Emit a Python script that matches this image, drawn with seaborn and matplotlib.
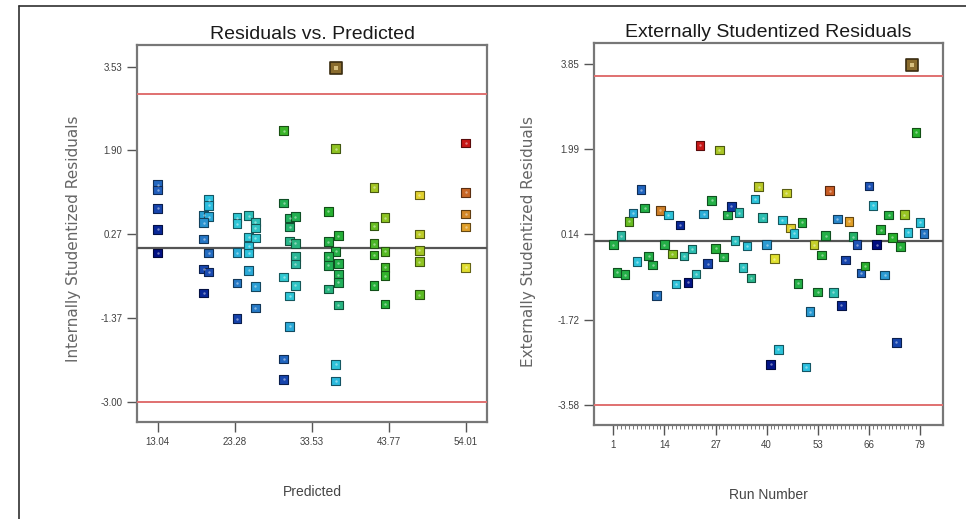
import numpy as np
import pandas as pd
import matplotlib
matplotlib.use("Agg")
import matplotlib.pyplot as plt
import seaborn as sns
from matplotlib import font_manager
from matplotlib.colors import LinearSegmentedColormap
from matplotlib.lines import Line2D

# ---------------- data ----------------
# Left panel: predicted value vs internally studentized residual
left_pred = [13.04, 13.04, 13.04, 13.04, 13.04,
             19.82, 19.82, 19.16, 19.82, 19.16, 19.16, 19.82, 19.16, 19.82, 19.16,
             23.59, 23.59, 25.14, 26.02, 26.02, 25.14, 26.02, 25.14, 23.59, 25.14,
             25.14, 23.59, 26.02, 26.02, 23.59,
             29.80, 29.80, 30.59, 31.34, 30.59, 30.59, 31.34, 31.34, 31.34, 29.80,
             31.34, 30.59, 30.59, 29.80, 29.80,
             36.71, 35.73, 37.06, 35.73, 36.71, 35.73, 35.73, 37.06, 37.06, 37.06,
             35.73, 37.06, 36.71, 36.71,
             41.84, 43.27, 41.84, 41.84, 43.27, 41.84, 43.27, 43.27, 41.84, 43.27,
             47.83, 47.83, 47.83, 47.83, 47.83,
             54.01, 54.01, 54.01, 54.01, 54.01]
left_resid = [1.23, 1.13, 0.77, 0.36, -0.10,
              0.94, 0.83, 0.64, 0.61, 0.49, 0.17, -0.10, -0.41, -0.47, -0.88,
              0.59, 0.47, 0.63, 0.50, 0.39, 0.21, 0.19, 0.03, -0.09, -0.10,
              -0.44, -0.68, -0.75, -1.17, -1.38,
              2.28, 0.87, 0.58, 0.61, 0.41, 0.13, 0.09, -0.17, -0.31, -0.57,
              -0.73, -0.94, -1.53, -2.16, -2.56,
              1.93, 0.71, 0.24, 0.12, -0.07, -0.17, -0.34, -0.30, -0.52, -0.67,
              -0.80, -1.11, -2.27, -2.59,
              1.18, 0.59, 0.43, 0.08, -0.07, -0.14, -0.38, -0.54, -0.73, -1.09,
              1.03, 0.27, -0.05, -0.27, -0.91,
              2.04, 1.08, 0.66, 0.41, -0.38]
left_outlier_pred = [36.71]
left_outlier_resid = [3.51]

# Right panel: run number vs externally studentized residual
right_run = list(range(1, 77)) + [78, 79, 80]
right_resid = [-0.09, -0.69, 0.11, -0.74, 0.42, 0.60, -0.46, 1.11, 0.71, -0.33,
               -0.53, -1.19, 0.66, -0.09, 0.56, -0.29, -0.95, 0.34, -0.33, -0.91,
               -0.18, -0.73, 2.08, 0.58, -0.50, 0.88, -0.17, 1.98, -0.36, 0.56,
               0.75, 0.00, 0.61, -0.58, -0.12, -0.81, 0.91, 1.18, 0.50, -0.09,
               -2.70, -0.39, -2.37, 0.45, 1.04, 0.28, 0.16, -0.93, 0.40, -2.76,
               -1.55, -0.09, -1.12, -0.31, 0.11, 1.09, -1.13, 0.47, -1.41, -0.42,
               0.42, 0.09, -0.09, -0.71, -0.55, 1.19, 0.77, -0.09, 0.24, -0.75,
               0.56, 0.07, -2.22, -0.13, 0.57, 0.18, 2.36, 0.40, 0.16]
right_actual = [36, 36, 30, 36, 44, 23, 25, 19, 36, 36,
                36, 20, 58, 36, 25, 46, 25, 15, 29, 13,
                29, 28, 64, 23, 17, 36, 38, 48, 36, 35,
                16, 28, 29, 28, 25, 31, 25, 49, 29, 22,
                13, 52, 25, 26, 50, 53, 26, 36, 37, 24,
                22, 50, 36, 38, 36, 60, 29, 21, 15, 17,
                56, 33, 18, 19, 40, 18, 25, 12, 38, 22,
                37, 40, 17, 38, 47, 25, 40, 25, 20]
right_outlier_run = [77]
right_outlier_resid = [3.83]

left_yticks = [3.53, 1.90, 0.27, -1.37, -3.00]
left_xticks = [13.04, 23.28, 33.53, 43.77, 54.01]
right_yticks = [3.85, 1.99, 0.14, -1.72, -3.58]
right_xticks = [1, 14, 27, 40, 53, 66, 79]
left_limits = 3.0
right_limits = 3.58

# ---------------- style ----------------
sns.set_style("white")

def has_font(name):
    try:
        font_manager.findfont(name, fallback_to_default=False)
        return True
    except Exception:
        return False

narrow = "Liberation Sans Narrow" if has_font("Liberation Sans Narrow") else "Liberation Sans"
plt.rcParams["font.family"] = [narrow, "DejaVu Sans"]

stops = [(12, '#000c80'), (15, '#0a2a9a'), (18, '#1f55b8'), (21, '#2a88cc'),
         (24, '#2cc0e0'), (27, '#30c8d0'), (30, '#2cb8a0'), (34, '#22b055'),
         (40, '#28b02c'), (45, '#78c020'), (49, '#b8c828'), (52, '#e0e030'),
         (56, '#e0a028'), (59, '#c87028'), (64, '#c81818')]
lo, hi = stops[0][0], stops[-1][0]
cmap = LinearSegmentedColormap.from_list(
    "de", [((v - lo) / (hi - lo), c) for v, c in stops])

fig = plt.figure(figsize=(9.66, 5.19), dpi=100)
W, H = 966, 519

def add_ax(x0, y0, x1, y1):
    return fig.add_axes([x0 / W, 1 - y1 / H, (x1 - x0) / W, (y1 - y0) / H])

axL = add_ax(137, 45, 487, 422)
axR = add_ax(594, 43, 943, 425)

# figure border (partial frame)
fig.add_artist(Line2D([19 / W, 19 / W], [0, 1 - 6 / H], transform=fig.transFigure,
                      color="#303030", lw=1.2))
fig.add_artist(Line2D([19 / W, 1], [1 - 6 / H, 1 - 6 / H], transform=fig.transFigure,
                      color="#303030", lw=1.2))


def scatter(ax, x, y, actual, size=38):
    df = pd.DataFrame({"x": x, "y": y, "a": actual})
    n0 = len(ax.collections)
    sns.scatterplot(data=df, x="x", y="y", hue="a", palette=cmap, hue_norm=(lo, hi),
                    marker="s", s=size, linewidth=0.8, legend=False, ax=ax, zorder=5)
    coll = ax.collections[n0]
    fc = np.array(coll.get_facecolors())
    ec = fc.copy()
    ec[:, :3] = ec[:, :3] * 0.45
    coll.set_edgecolors(ec)
    sns.scatterplot(data=df, x="x", y="y", color="white", alpha=0.45, s=3,
                    linewidth=0, legend=False, ax=ax, zorder=6)


def outlier(ax, x, y):
    df = pd.DataFrame({"x": x, "y": y})
    sns.scatterplot(data=df, x="x", y="y", color="#8a6c2e", marker="s", s=80,
                    edgecolor="#3a2c10", linewidth=1.2, legend=False, ax=ax, zorder=7)
    sns.scatterplot(data=df, x="x", y="y", color="#d8c080", marker="s", s=6,
                    linewidth=0, legend=False, ax=ax, zorder=8)


left_actual = [p + 5 * r for p, r in zip(left_pred, left_resid)]
scatter(axL, left_pred, left_resid, left_actual)
outlier(axL, left_outlier_pred, left_outlier_resid)
scatter(axR, right_run, right_resid, right_actual)
outlier(axR, right_outlier_run, right_outlier_resid)

for ax, lim in ((axL, left_limits), (axR, right_limits)):
    ax.axhline(lim, color="#e07070", lw=1.4, zorder=3)
    ax.axhline(-lim, color="#e07070", lw=1.4, zorder=3)
    ax.axhline(0, color="#555555", lw=1.6, zorder=3)
    for sp in ax.spines.values():
        sp.set_color("#777777")
        sp.set_linewidth(1.6)

axL.set_xlim(10.29, 56.84)
axL.set_ylim(-3.39, 3.95)
axR.set_xlim(-3.9, 84.85)
axR.set_ylim(-4.02, 4.31)

axL.set_xticks(left_xticks)
axL.set_xticklabels([f"{v:.2f}" for v in left_xticks])
axL.set_yticks(left_yticks)
axL.set_yticklabels([f"{v:.2f}" for v in left_yticks])
axR.set_xticks(right_xticks)
axR.set_xticklabels([str(v) for v in right_xticks])
axR.set_xticks(range(1, 80), minor=True)
axR.set_yticks(right_yticks)
axR.set_yticklabels([f"{v:.2f}" for v in right_yticks])

for ax in (axL, axR):
    ax.tick_params(axis="both", which="major", direction="out", length=7, width=1,
                   color="#555555", labelsize=7, labelcolor="#404040",
                   bottom=True, left=True)
    ax.tick_params(axis="x", which="major", pad=4)
axR.tick_params(axis="x", which="minor", direction="out", length=3, width=0.7,
                color="#777777", bottom=True)

axL.set_title("Residuals vs. Predicted", fontsize=14, color="#1a1a1a", pad=4)
axR.set_title("Externally Studentized Residuals", fontsize=14, color="#1a1a1a", pad=4)

axL.set_xlabel("Predicted", fontsize=10, color="#454545")
axR.set_xlabel("Run Number", fontsize=10, color="#454545")
axL.set_ylabel("Internally Studentized Residuals", fontsize=11, color="#666666",
               family=["DejaVu Sans"])
axR.set_ylabel("Externally Studentized Residuals", fontsize=11, color="#666666",
               family=["DejaVu Sans"])
axL.xaxis.set_label_coords(0.5, -0.168)
axR.xaxis.set_label_coords(0.5, -0.165)
axL.yaxis.set_label_coords(-0.16, 0.485)
axR.yaxis.set_label_coords(-0.165, 0.48)

fig.savefig("out.png", dpi=100)
